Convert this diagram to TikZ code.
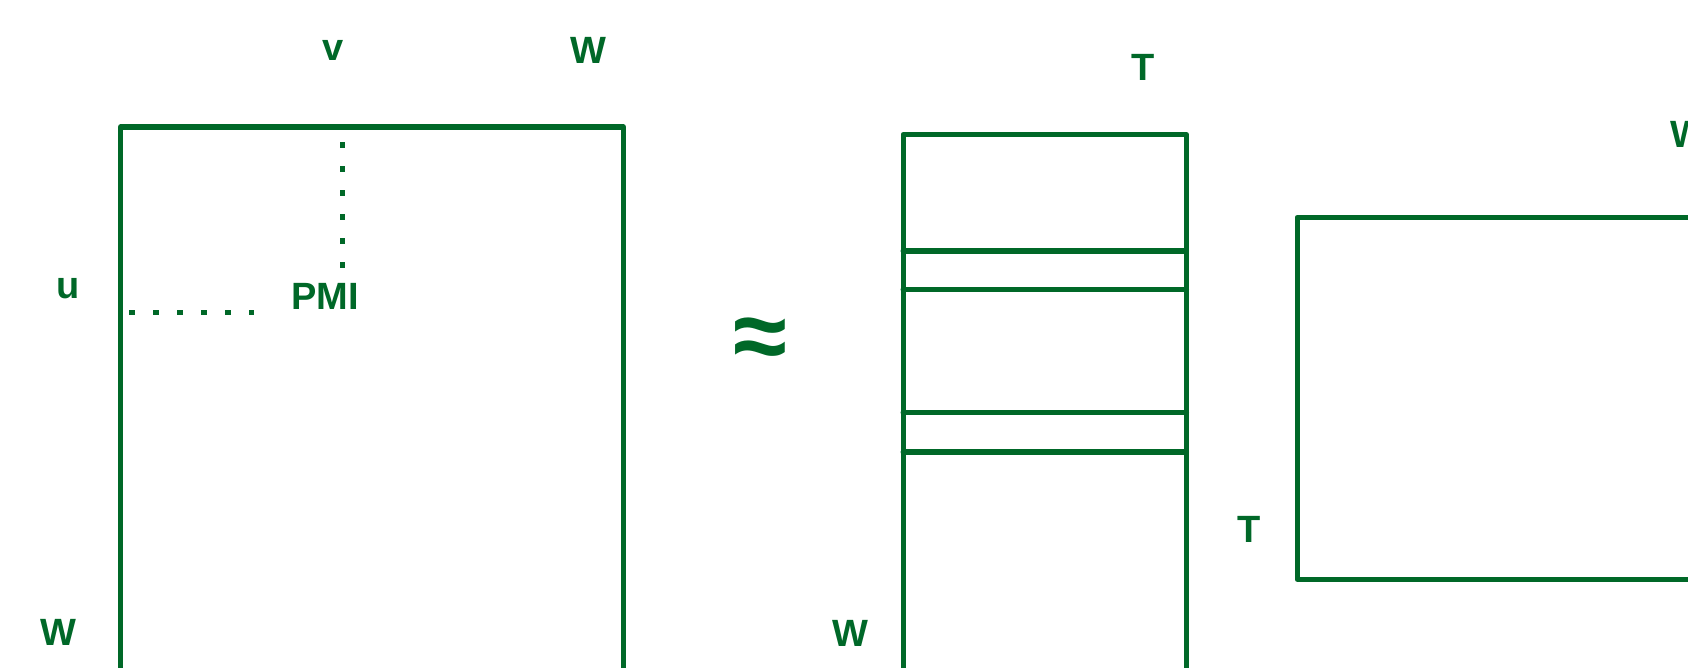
\documentclass[tikz,border=0pt]{standalone}
\usepackage{fontspec}
\setmainfont{Liberation Sans}
\definecolor{pmigreen}{RGB}{0,104,40}
\tikzset{
  frame/.style={draw=pmigreen, line width=5.4pt, line join=round, line cap=round},
  dotline/.style={draw=pmigreen, line width=5.6pt, dash pattern=on 5.6pt off 18.4pt},
  lbl/.style={text=pmigreen, font=\fontsize{38}{40}\selectfont\bfseries, inner sep=0pt, anchor=center},
}
\begin{document}
\begin{tikzpicture}[x=1pt,y=-1pt]
\useasboundingbox (0,0) rectangle (1688,667);
\clip (0,0) rectangle (1688,667);
% left matrix
\draw[frame] (120.6,700) -- (120.6,127) -- (623.3,127) -- (623.3,700);
\node[lbl] (v) at (333,50.6) {v};
\node[lbl] (wtop) at (588.3,50) {W};
\node[lbl] (u) at (67.8,288.5) {u};
\node[lbl] (wleft) at (58.1,632.4) {W};
\node[lbl] (pmi) at (325,296) {PMI};
\coordinate (vtop) at (342.3,142);
\coordinate (vbot) at (342.3,268);
\coordinate (hl) at (129,312.5);
\coordinate (hr) at (254,312.5);
\draw[dotline] (vtop) -- (vbot);
\draw[dotline] (hl) -- (hr);
% approx
\node[text=pmigreen, font=\fontsize{98}{98}\selectfont\bfseries, inner sep=0pt] (approx) at (760.5,344) {≈};
% middle matrix
\draw[frame] (903.2,700) -- (903.2,134.6) -- (1186.3,134.6) -- (1186.3,700);
\draw[frame] (903.2,250.8) -- (1186.3,250.8);
\draw[frame] (903.2,289.6) -- (1186.3,289.6);
\draw[frame] (903.2,412.3) -- (1186.3,412.3);
\draw[frame] (903.2,452.1) -- (1186.3,452.1);
\node[lbl] (ttop) at (1142.7,67.3) {T};
\node[lbl] (wmid) at (850.4,633.5) {W};
% right matrix
\draw[frame] (1720,217.5) -- (1297.2,217.5) -- (1297.2,579.2) -- (1720,579.2);
\node[lbl] (tright) at (1248.7,529) {T};
\node[lbl] (wright) at (1688.5,134) {W};
\end{tikzpicture}
\end{document}
